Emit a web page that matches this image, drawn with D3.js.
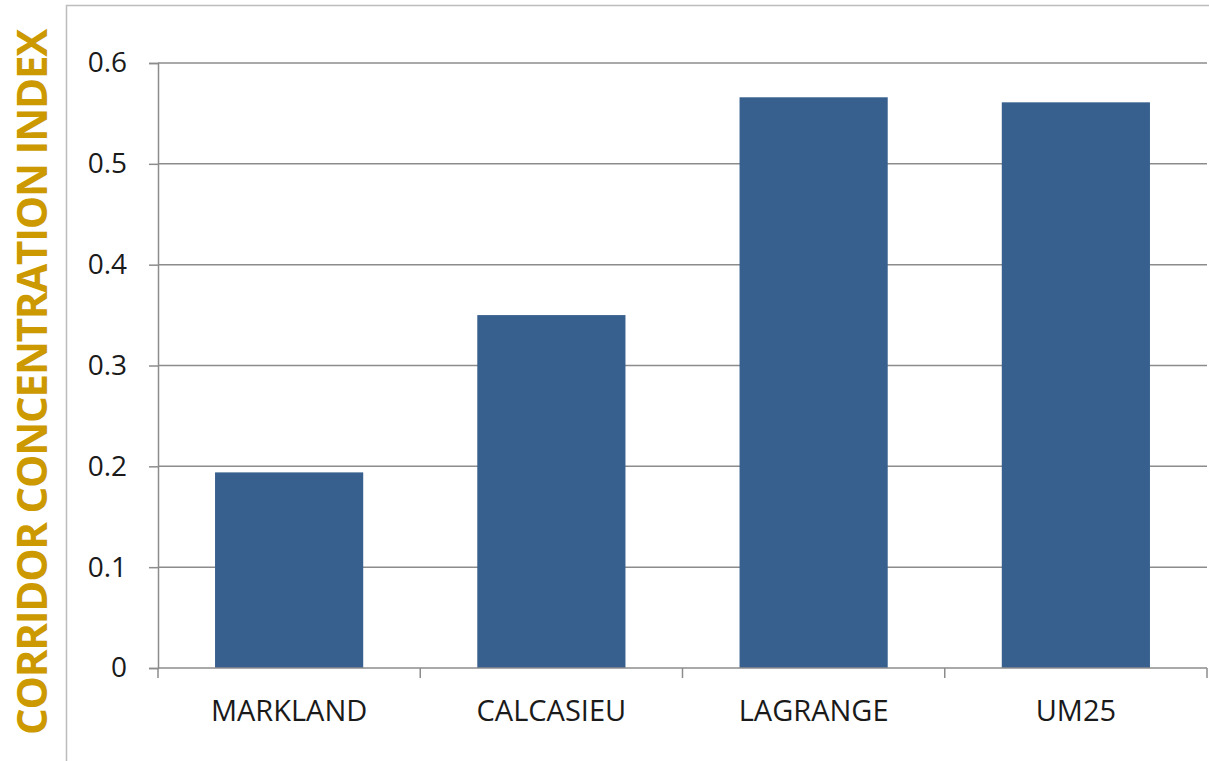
<!DOCTYPE html>
<html>
<head>
<meta charset="utf-8">
<script src="https://cdn.jsdelivr.net/npm/d3@7"></script>
<style>
  html, body { margin: 0; padding: 0; background: #fff; }
  svg { display: block; }
</style>
</head>
<body>
<div id="chart"></div>
<script>
// Chart data
const categories = ["MARKLAND", "CALCASIEU", "LAGRANGE", "UM25"];
const values = [0.194, 0.350, 0.566, 0.561];
const yTicks = [0, 0.1, 0.2, 0.3, 0.4, 0.5, 0.6];
const yTitle = "CORRIDOR CONCENTRATION INDEX";

const fullwidth = 1209;
const fullheight = 761;
const margin = { top: 63, right: 2, bottom: 93, left: 158 };
const width = fullwidth - margin.left - margin.right;
const height = fullheight - margin.top - margin.bottom;

const svg = d3.select("#chart")
    .append("svg")
    .attr("width", fullwidth)
    .attr("height", fullheight);

// chart area frame (only left and top edges visible)
svg.append("path")
    .attr("d", `M66.5,${fullheight + 2}V5.5H${fullwidth + 2}`)
    .attr("fill", "none")
    .attr("stroke", "#bdbdbd")
    .attr("stroke-width", 1.5);

const g = svg.append("g")
    .attr("transform", `translate(${margin.left},${margin.top})`);

const xScale = d3.scaleBand()
    .domain(categories)
    .range([0, width])
    .paddingInner(0.435)
    .paddingOuter(0.2175);

const yScale = d3.scaleLinear()
    .domain([0, 0.6])
    .range([height, 0]);

// gridlines
g.append("g")
    .selectAll("line")
    .data(yTicks.filter(d => d > 0))
    .enter()
    .append("line")
    .attr("x1", 0)
    .attr("x2", width)
    .attr("y1", d => yScale(d))
    .attr("y2", d => yScale(d))
    .attr("stroke", "#8c8c8c")
    .attr("stroke-width", 1.5);

// bars
g.selectAll("rect.bar")
    .data(values)
    .enter()
    .append("rect")
    .attr("class", "bar")
    .attr("x", (d, i) => xScale(categories[i]))
    .attr("y", d => yScale(d))
    .attr("width", xScale.bandwidth())
    .attr("height", d => height - yScale(d))
    .attr("fill", "#37608f");

// y axis
const yAxis = d3.axisLeft(yScale)
    .tickValues(yTicks)
    .tickFormat(d => d === 0 ? "0" : d3.format(".1f")(d))
    .tickSize(9)
    .tickPadding(22);

const yG = g.append("g").call(yAxis);
yG.select(".domain").attr("stroke", "#8c8c8c").attr("stroke-width", 1.5);
yG.selectAll(".tick line").attr("stroke", "#8c8c8c").attr("stroke-width", 1.5);
yG.selectAll(".tick text")
    .attr("fill", "#1a1a1a")
    .style("font-family", "'Open Sans', sans-serif")
    .style("font-size", "28px");

// x axis: ticks at category boundaries
const xAxisG = g.append("g").attr("transform", `translate(0,${height})`);
xAxisG.append("line")
    .attr("x1", 0).attr("x2", width)
    .attr("y1", 0).attr("y2", 0)
    .attr("stroke", "#8c8c8c")
    .attr("stroke-width", 1.5);
const boundaries = d3.range(categories.length + 1).map(i => i * xScale.step());
xAxisG.selectAll("line.tk")
    .data(boundaries)
    .enter()
    .append("line")
    .attr("class", "tk")
    .attr("x1", d => d).attr("x2", d => d)
    .attr("y1", 0).attr("y2", 10)
    .attr("stroke", "#8c8c8c")
    .attr("stroke-width", 1.5);
xAxisG.selectAll("text")
    .data(categories)
    .enter()
    .append("text")
    .attr("x", d => xScale(d) + xScale.bandwidth() / 2)
    .attr("y", 53)
    .attr("text-anchor", "middle")
    .attr("fill", "#1a1a1a")
    .style("font-family", "'Open Sans', sans-serif")
    .style("font-size", "29px")
    .text(d => d);

// y axis title, squeezed with letter-spacing to fit the reference length
const titleLen = 705;
const title = svg.append("text")
    .attr("transform", `translate(47,${(30 + 735) / 2}) rotate(-90)`)
    .attr("text-anchor", "middle")
    .attr("fill", "#cc9900")
    .style("font-family", "'Open Sans', sans-serif")
    .style("font-weight", "bold")
    .style("font-size", "42px")
    .text(yTitle);
const natural = title.node().getComputedTextLength();
if (natural > titleLen) {
    const ls = (titleLen - natural) / yTitle.length;
    title.style("letter-spacing", `${ls}px`);
}
</script>
</body>
</html>
